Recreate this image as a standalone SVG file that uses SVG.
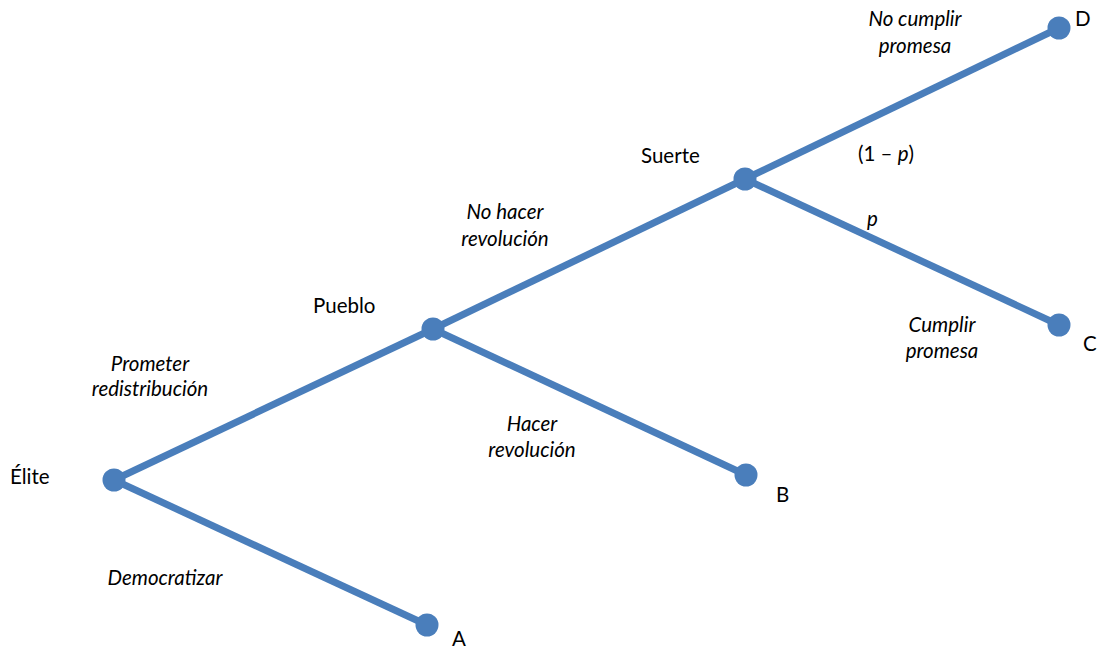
<svg xmlns="http://www.w3.org/2000/svg" width="1111" height="648" viewBox="0 0 1111 648">
<style>
.e{stroke:#4a7ebb;stroke-width:7;fill:none}
.n{fill:#4a7ebb}
text{font-family:Lato,"Open Sans","Liberation Sans",sans-serif;font-size:20.5px;fill:#000}
.i{font-style:italic}
.m{text-anchor:middle}
</style>
<rect width="1111" height="648" fill="#fff"/>
<g id="connectors">
<line class="e" x1="114" y1="480" x2="427" y2="625"/>
<line class="e" x1="114" y1="480" x2="433" y2="329"/>
<line class="e" x1="433" y1="329" x2="746" y2="475"/>
<line class="e" x1="433" y1="329" x2="745" y2="179"/>
<line class="e" x1="745" y1="179" x2="1059" y2="28"/>
<line class="e" x1="745" y1="179" x2="1059" y2="325"/>
</g>
<g id="elite"><circle class="n" cx="114" cy="480" r="11.5"/><text x="10" y="484">Élite</text></g>
<g id="A"><circle class="n" cx="427" cy="625" r="11.5"/><text x="452" y="646">A</text></g>
<g id="pueblo"><circle class="n" cx="433" cy="329" r="11.5"/><text x="313" y="313">Pueblo</text></g>
<g id="B"><circle class="n" cx="746" cy="475" r="11.5"/><text x="776" y="502">B</text></g>
<g id="suerte"><circle class="n" cx="745" cy="179" r="11.5"/><text x="641" y="163">Suerte</text></g>
<g id="D"><circle class="n" cx="1059" cy="28" r="11.5"/><text x="1075" y="26">D</text></g>
<g id="C"><circle class="n" cx="1059" cy="325" r="11.5"/><text x="1083" y="351">C</text></g>
<g id="labels">
<text class="i m" x="165" y="585">Democratizar</text>
<text class="i m" x="150" y="371">Prometer</text>
<text class="i m" x="150" y="396">redistribución</text>
<text class="i m" x="505" y="219">No hacer</text>
<text class="i m" x="505" y="246">revolución</text>
<text class="i m" x="532" y="431">Hacer</text>
<text class="i m" x="532" y="457">revolución</text>
<text class="i m" x="915" y="26">No cumplir</text>
<text class="i m" x="915" y="53">promesa</text>
<text class="i m" x="942" y="332">Cumplir</text>
<text class="i m" x="942" y="358">promesa</text>
<text x="858" y="161">(1 – <tspan class="i">p</tspan>)</text>
<text class="i" x="867" y="226">p</text>
</g>
</svg>
